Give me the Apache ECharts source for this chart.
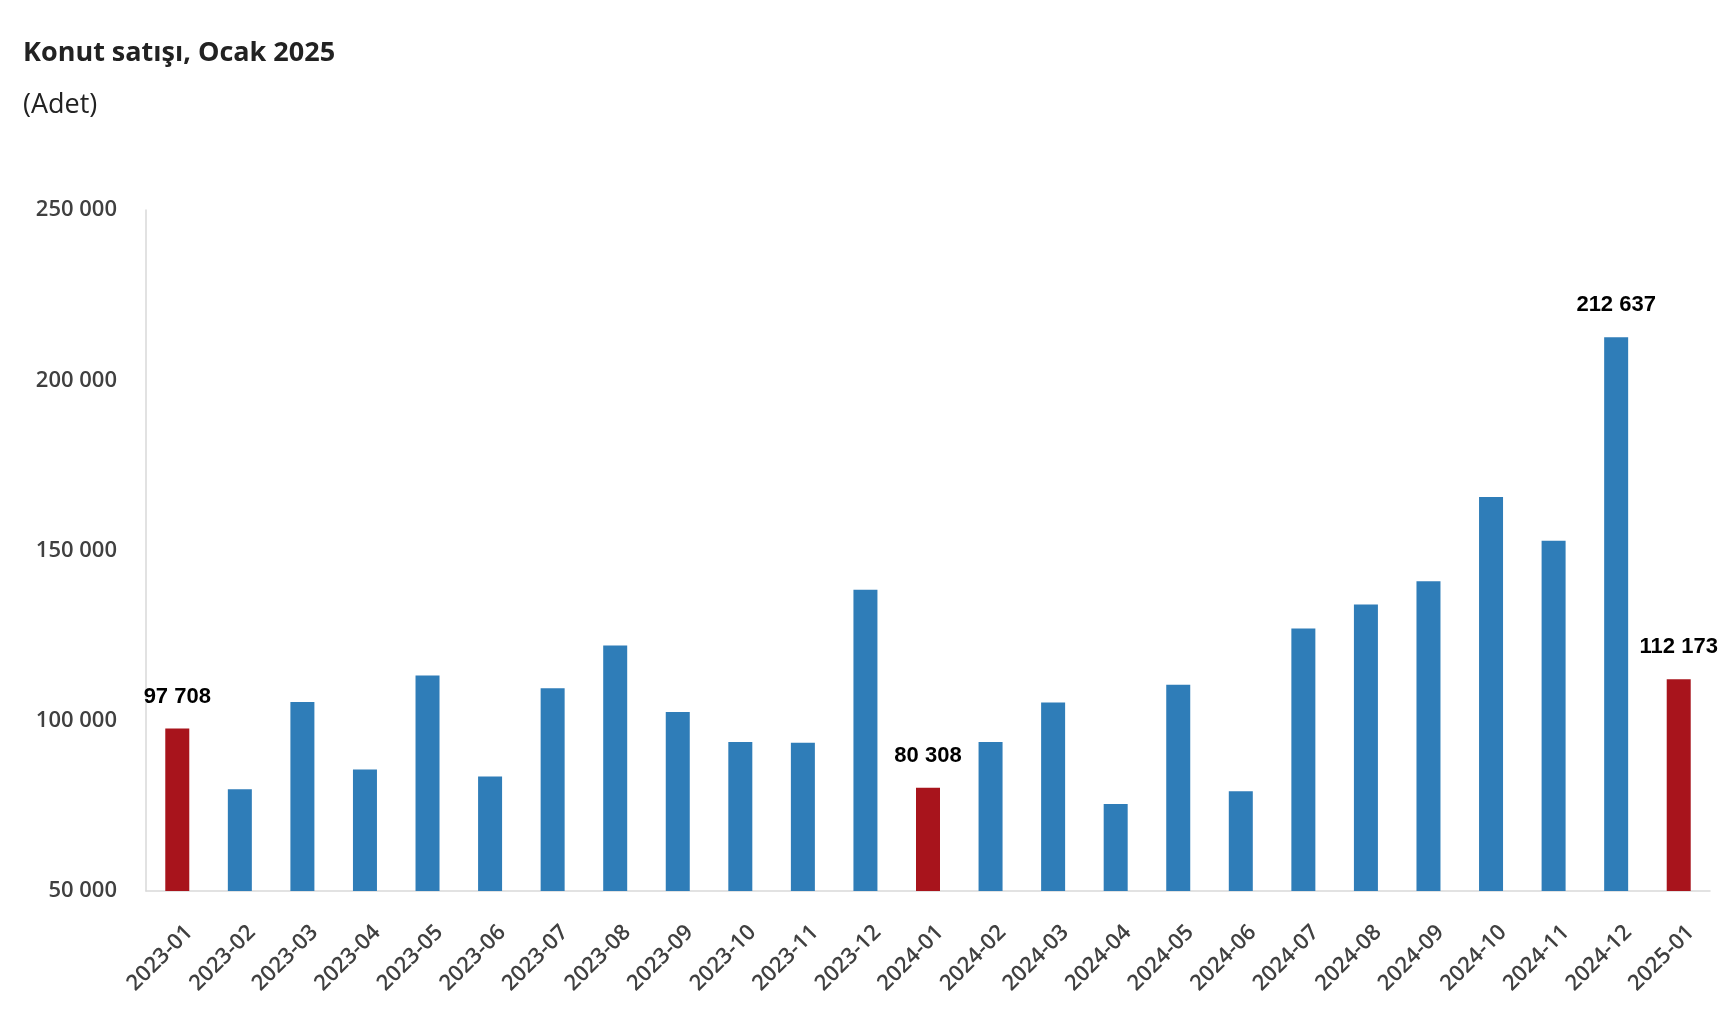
<!DOCTYPE html>
<html>
<head>
<meta charset="utf-8">
<script src="https://cdn.jsdelivr.net/npm/echarts@6/dist/echarts.min.js"></script>
<style>
html,body{margin:0;padding:0;background:#fff;}
#chart{width:1734px;height:1024px;}
</style>
</head>
<body>
<div id="chart"></div>
<script>
const categories = ["2023-01","2023-02","2023-03","2023-04","2023-05","2023-06","2023-07","2023-08","2023-09","2023-10","2023-11","2023-12","2024-01","2024-02","2024-03","2024-04","2024-05","2024-06","2024-07","2024-08","2024-09","2024-10","2024-11","2024-12","2025-01"];
const sales = [97708,79859,105476,85652,113276,83636,109548,122093,102578,93737,93523,138480,80308,93768,105394,75569,110588,79313,127078,134163,140944,165727,152856,212637,112173];
const highlighted = ["2023-01","2024-01","2025-01"];
const labeled = ["2023-01","2024-01","2024-12","2025-01"];
const yTicks = [50000,100000,150000,200000,250000];

const fmt = v => String(v).replace(/\B(?=(\d{3})+(?!\d))/g, ' ');

const blue = '#2F7DB8';
const red = '#A8141C';

const seriesData = sales.map((v, i) => {
  const c = categories[i];
  const item = { value: v, itemStyle: { color: highlighted.includes(c) ? red : blue } };
  item.label = { show: labeled.includes(c) };
  return item;
});

const chart = echarts.init(document.getElementById('chart'), null, { renderer: 'canvas' });
chart.setOption({
  animation: false,
  backgroundColor: '#ffffff',
  title: [
    { text: 'Konut satışı, Ocak 2025', left: 18, top: 35,
      textStyle: { fontFamily: 'Open Sans', fontWeight: 'bold', fontSize: 27, color: '#222222' } },
    { text: '(Adet)', left: 18, top: 87,
      textStyle: { fontFamily: 'Open Sans', fontWeight: 'normal', fontSize: 27, color: '#222222' } }
  ],
  grid: { left: 146, right: 24, top: 210, bottom: 133, containLabel: false },
  xAxis: {
    type: 'category',
    data: categories,
    axisLine: { show: true, lineStyle: { color: '#d9d9d9', width: 1.5 } },
    axisTick: { show: false },
    axisLabel: { rotate: 45, interval: 0, margin: 26, verticalAlign: 'top', lineHeight: 34,
      fontFamily: 'Open Sans', fontWeight: 600, fontSize: 22, color: '#404040' }
  },
  yAxis: {
    type: 'value',
    min: 50000, max: 250000, interval: 50000,
    axisLine: { show: true, lineStyle: { color: '#d9d9d9', width: 1.5 } },
    axisTick: { show: false },
    splitLine: { show: false },
    axisLabel: { margin: 29, fontFamily: 'Open Sans', fontWeight: 600, fontSize: 22, color: '#404040',
      formatter: v => yTicks.includes(v) ? fmt(v) : '' }
  },
  series: [{
    type: 'bar',
    data: seriesData,
    barWidth: 24,
    label: {
      show: false, position: 'top', distance: 21,
      fontFamily: 'Liberation Sans', fontWeight: 'bold', fontSize: 22, color: '#000000',
      formatter: p => fmt(p.value)
    }
  }]
});
</script>
</body>
</html>
